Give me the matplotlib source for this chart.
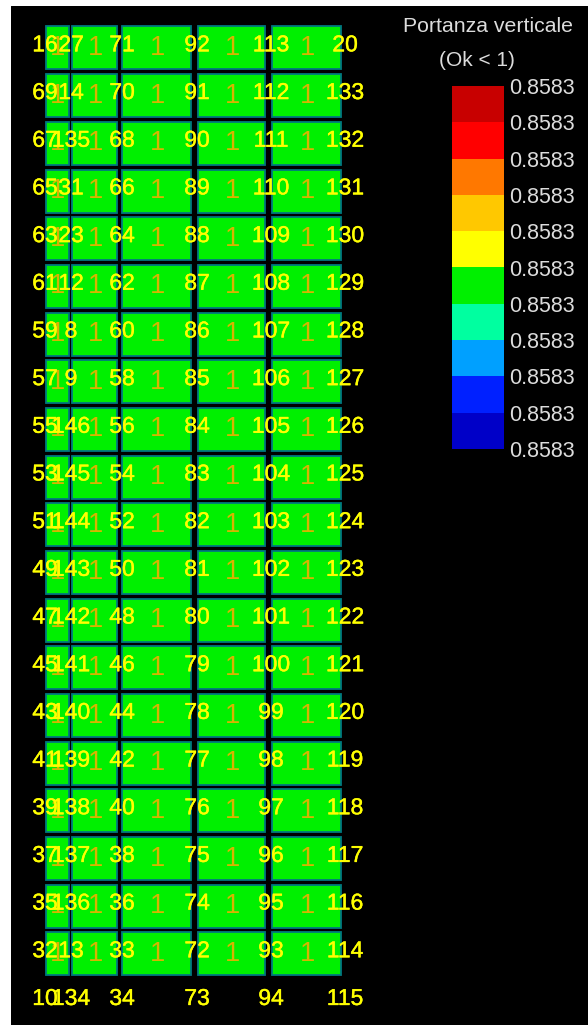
#!/usr/bin/env python3
"""Portanza verticale: storey grid with node numbers and a band legend."""
import numpy as np
import matplotlib
matplotlib.use("Agg")
import matplotlib.pyplot as plt
import matplotlib.patheffects as pe
from matplotlib.colors import BoundaryNorm, ListedColormap

plt.rcParams["font.family"] = ["Liberation Sans", "DejaVu Sans"]

W, H = 588, 1026

# node numbers, one list per grid line (last entry = bottom row of labels)
nodes_a = [16, 69, 67, 65, 63, 61, 59, 57, 55, 53, 51, 49, 47, 45, 43, 41, 39, 37, 35, 32, 10]
nodes_b = [27, 14, 135, 31, 23, 12, 8, 9, 146, 145, 144, 143, 142, 141, 140, 139, 138, 137, 136, 13, 134]
nodes_c = [71, 70, 68, 66, 64, 62, 60, 58, 56, 54, 52, 50, 48, 46, 44, 42, 40, 38, 36, 33, 34]
nodes_d = [92, 91, 90, 89, 88, 87, 86, 85, 84, 83, 82, 81, 80, 79, 78, 77, 76, 75, 74, 72, 73]
nodes_e = [113, 112, 111, 110, 109, 108, 107, 106, 105, 104, 103, 102, 101, 100, 99, 98, 97, 96, 95, 93, 94]
nodes_f = [20, 133, 132, 131, 130, 129, 128, 127, 126, 125, 124, 123, 122, 121, 120, 119, 118, 117, 116, 114, 115]
node_columns = [nodes_a, nodes_b, nodes_c, nodes_d, nodes_e, nodes_f]

# grid line positions and bay extents along the wall
node_x = [45, 71, 122, 197, 271, 345]
bay_left = [45.5, 71.5, 121.5, 197.5, 272]
bay_right = [68.5, 117, 191, 265, 341]

# verification ratio in every bay of every storey, and its legend band
bay_values = [[1, 1, 1, 1, 1] for _ in range(20)]
bay_band = 4

band_colors = ["#0000c8", "#0020ff", "#00a0ff", "#00ffa0", "#00f000",
               "#ffff00", "#ffc800", "#ff7800", "#ff0000", "#c80000"]
legend_labels = ["0.8583"] * 11

title_lines = ["Portanza verticale", "(Ok < 1)"]

BLACK_L, BLACK_T, BLACK_B = 11, 6, 1025
ROW_TOP, ROW_STEP, ROW_H = 26.5, 47.68, 43.0
EDGE = "#007880"
NODE_COL = "#ffff00"
VAL_COL = "#d8b400"
GREY = "#dcdcdc"


def px_axes(fig, left, top, right, bottom):
    return fig.add_axes([left / W, 1 - bottom / H, (right - left) / W, (bottom - top) / H])


def main():
    fig = plt.figure(figsize=(W / 100, H / 100), dpi=100, facecolor="white")

    ax = px_axes(fig, BLACK_L, BLACK_T, W, BLACK_B)
    ax.set_xlim(BLACK_L, W)
    # y is the storey index, 0 at the top row
    ax.set_ylim((BLACK_B - ROW_TOP) / ROW_STEP, (BLACK_T - ROW_TOP) / ROW_STEP)
    ax.set_axis_off()
    ax.add_patch(plt.Rectangle((0, 0), 1, 1, transform=ax.transAxes, color="black", zorder=0))

    cmap = ListedColormap(band_colors)
    norm = BoundaryNorm(np.arange(len(band_colors) + 1), cmap.N)
    h = ROW_H / ROW_STEP

    for r, row in enumerate(bay_values):
        for c, val in enumerate(row):
            ax.bar(bay_left[c], h, width=bay_right[c] - bay_left[c], bottom=r, align="edge",
                   color=cmap(norm(bay_band)), edgecolor=EDGE, linewidth=1.3, zorder=2)
            ax.text((bay_left[c] + bay_right[c]) / 2 + 1, r + h / 2, str(val), color=VAL_COL,
                    fontsize=19.5, ha="center", va="center", zorder=3)

    # thin stroke so the numbers carry the same weight as the reference
    heavy = [pe.withStroke(linewidth=0.3, foreground=NODE_COL)]
    for x, col in zip(node_x, node_columns):
        for r, num in enumerate(col):
            ax.text(x, r + 0.385, str(num), color=NODE_COL, fontsize=16.5,
                    ha="center", va="center", zorder=4, path_effects=heavy)

    # legend bands
    cax = px_axes(fig, 452, 86, 504, 449)
    levels = np.arange(len(band_colors) + 1)
    cax.pcolormesh([0, 1], levels, levels[:-1].reshape(-1, 1), cmap=cmap, norm=norm)
    cax.set_xticks([])
    cax.yaxis.tick_right()
    cax.set_yticks(levels)
    cax.set_yticklabels(legend_labels[::-1], color=GREY, fontsize=15.5)
    cax.tick_params(axis="y", length=0, pad=3.5)
    for spine in cax.spines.values():
        spine.set_visible(False)

    fig.text(488 / W, 1 - 26.5 / H, title_lines[0], color=GREY, fontsize=15.3,
             ha="center", va="center")
    fig.text(476.5 / W, 1 - 61 / H, title_lines[1], color=GREY, fontsize=15,
             ha="center", va="center")

    fig.savefig("out.png", dpi=100, facecolor="white")
    plt.close(fig)


if __name__ == "__main__":
    main()
